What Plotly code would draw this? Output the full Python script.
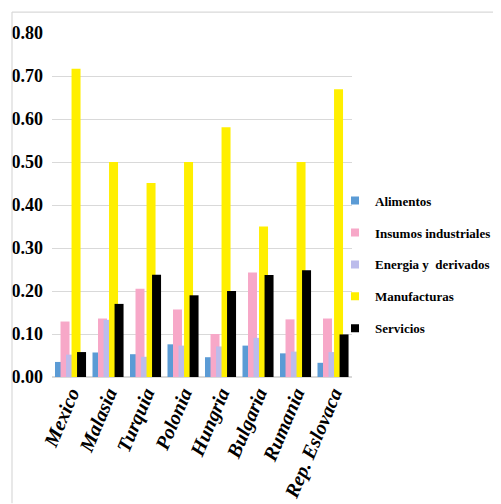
import plotly.graph_objects as go

paises = ["Mexico", "Malasia", "Turquia", "Polonia", "Hungria", "Bulgaria", "Rumania", "Rep. Eslovaca"]

alimentos = [0.035, 0.057, 0.053, 0.076, 0.046, 0.073, 0.055, 0.033]
insumos = [0.129, 0.136, 0.205, 0.157, 0.100, 0.243, 0.134, 0.136]
energia = [0.052, 0.133, 0.047, 0.073, 0.071, 0.091, 0.059, 0.058]
manufacturas = [0.717, 0.500, 0.451, 0.500, 0.581, 0.350, 0.500, 0.669]
servicios = [0.058, 0.170, 0.238, 0.190, 0.200, 0.237, 0.248, 0.099]

series_names = ["Alimentos", "Insumos industriales", "Energia y  derivados", "Manufacturas", "Servicios"]
series_values = [alimentos, insumos, energia, manufacturas, servicios]
colors = ["#5B9BD5", "#F7A8C8", "#BCBCEB", "#FFEF00", "#000000"]

offsets = [-0.42, -0.273, -0.126, 0.021, 0.168]
bar_w = 0.24

SERIF = "Liberation Serif"

fig = go.Figure()
for name, vals, col, off in zip(series_names, series_values, colors, offsets):
    fig.add_trace(go.Bar(
        x=paises, y=vals, name=name, marker=dict(color=col, line=dict(width=0)),
        offset=off, width=bar_w, legendgroup=name, showlegend=False,
    ))
# legend entries with small square keys
for name, col in zip(series_names, colors):
    fig.add_trace(go.Scatter(
        x=[None], y=[None], mode="markers", name=name, legendgroup=name,
        marker=dict(symbol="square", size=8, color=col), showlegend=True,
    ))

# page body adds an 8px offset; compensate so target pixel positions match
OFF = 8
W, H = 501 - OFF, 504 - OFF
L, R = 52 - OFF, 352 - OFF
T, B = 33 - OFF, 377.5 - OFF

def px_x(p):
    return (p - OFF - L) / (R - L)

def px_y(p):
    return (B - (p - OFF)) / (B - T)

fig.update_layout(
    width=W, height=H,
    margin=dict(l=L, r=W - R, t=T, b=H - B, autoexpand=False),
    barmode="overlay",
    paper_bgcolor="white", plot_bgcolor="white",
    font=dict(family=SERIF, color="black"),
    showlegend=True,
    legend=dict(
        x=px_x(335), xanchor="left", y=px_y(265), yanchor="middle",
        font=dict(family=SERIF, size=13, color="black", weight="bold"),
        tracegroupgap=12, itemwidth=30, bgcolor="rgba(0,0,0,0)",
    ),
    xaxis=dict(
        type="category", showgrid=False, showline=False, ticks="",
        tickangle=-67, automargin=False,
        tickfont=dict(family=SERIF, size=20, color="black", weight="bold", style="italic"),
    ),
    yaxis=dict(
        range=[0, 0.8], dtick=0.1, tickformat=".2f", showgrid=True,
        gridcolor="#D9D9D9", gridwidth=1, zeroline=True, zerolinecolor="#D9D9D9",
        showline=False, ticks="", ticklabelstandoff=8, automargin=False,
        tickfont=dict(family=SERIF, size=18, color="black", weight="bold"),
    ),
    shapes=[
        dict(type="line", xref="paper", yref="paper", x0=px_x(12), x1=px_x(501), y0=px_y(12), y1=px_y(12),
             line=dict(color="#D9D9D9", width=1.2)),
        dict(type="line", xref="paper", yref="paper", x0=px_x(12), x1=px_x(12), y0=px_y(12), y1=px_y(504),
             line=dict(color="#D9D9D9", width=1.2)),
    ],
)

fig.write_html("out.html")
